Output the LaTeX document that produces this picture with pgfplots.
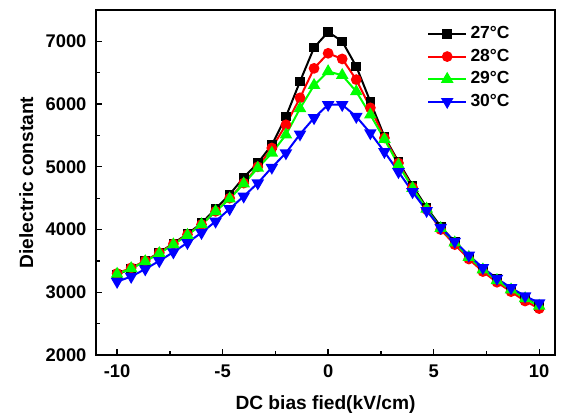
\documentclass[border=0pt]{standalone}
\usepackage{fontspec}
\setmainfont{Liberation Sans}
\usepackage{pgfplots}
\pgfplotsset{compat=1.18}

\begin{document}
\begin{tikzpicture}
% page frame: 563x420 px at 0.6pt per px, axis box from (96,10) to (555,355)
\useasboundingbox (-57.6pt,-39pt) rectangle (280.2pt,213pt);
\begin{axis}[
  at={(0,0)}, anchor=south west,
  scale only axis,
  width=275.4pt, height=207pt,
  xmin=-11, xmax=10.75,
  ymin=2000, ymax=7500,
  xtick={-10,-5,0,5,10},
  ytick={2000,3000,4000,5000,6000,7000},
  minor x tick num=1,
  minor y tick num=1,
  tick align=inside,
  xtick pos=bottom, ytick pos=left,
  major tick length=3.6pt, minor tick length=2.2pt,
  every tick/.style={black, line width=0.8pt},
  axis line style={line width=0.9pt},
  /pgf/number format/assume math mode=true,
  /pgf/number format/1000 sep={},
  tick label style={font=\fontsize{11}{13}\selectfont\bfseries},
  xticklabel style={yshift=-2.4pt},
  yticklabel style={xshift=-2.2pt},
  label style={font=\fontsize{11.5}{13}\selectfont\bfseries},
  xlabel={DC bias fied(kV/cm)},
  ylabel={Dielectric constant},
  xlabel style={yshift=-3.8pt},
  ylabel style={yshift=0.5pt},
  legend style={at={(0.92,0.972)}, anchor=north east, draw=none, fill=none,
    font=\fontsize{10.5}{12}\selectfont\bfseries, row sep=0.7pt},
  legend cell align=left,
  legend image code/.code={\draw[mark repeat=2,mark phase=2]
    plot coordinates {(0cm,0cm) (0.4cm,0cm) (0.8cm,0cm)};},
]
\addplot[black, line width=1.2pt, mark=square*, mark size=2.3pt] coordinates {
(-10,3280) (-9.333,3380) (-8.667,3500) (-8,3630) (-7.333,3780) (-6.667,3930)
(-6,4100) (-5.333,4330) (-4.667,4560) (-4,4830) (-3.333,5060) (-2.667,5350)
(-2,5800) (-1.333,6360) (-0.667,6900) (0,7150) (0.667,7000) (1.333,6600)
(2,6040) (2.667,5480) (3.333,5080) (4,4700) (4.667,4350) (5.333,4050)
(6,3800) (6.667,3570) (7.333,3380) (8,3210) (8.667,3060) (9.333,2910) (10,2780)
};
\addlegendentry{27°C}
\addplot[red, line width=1.2pt, mark=*, mark size=2.6pt] coordinates {
(-10,3300) (-9.333,3390) (-8.667,3500) (-8,3630) (-7.333,3770) (-6.667,3920)
(-6,4080) (-5.333,4290) (-4.667,4500) (-4,4740) (-3.333,5000) (-2.667,5300)
(-2,5670) (-1.333,6100) (-0.667,6570) (0,6810) (0.667,6720) (1.333,6390)
(2,5940) (2.667,5460) (3.333,5060) (4,4670) (4.667,4320) (5.333,4000)
(6,3760) (6.667,3530) (7.333,3330) (8,3160) (8.667,3010) (9.333,2860) (10,2740)
};
\addlegendentry{28°C}
\addplot[green, line width=1.2pt, mark=triangle*, mark size=3.2pt] coordinates {
(-10,3290) (-9.333,3380) (-8.667,3490) (-8,3620) (-7.333,3760) (-6.667,3910)
(-6,4080) (-5.333,4290) (-4.667,4490) (-4,4730) (-3.333,4980) (-2.667,5220)
(-2,5510) (-1.333,5930) (-0.667,6300) (0,6520) (0.667,6460) (1.333,6200)
(2,5830) (2.667,5440) (3.333,5030) (4,4660) (4.667,4330) (5.333,4020)
(6,3790) (6.667,3560) (7.333,3360) (8,3190) (8.667,3040) (9.333,2900) (10,2780)
};
\addlegendentry{29°C}
\addplot[blue, line width=1.2pt, mark=triangle*, mark size=3.2pt, mark options={rotate=180}] coordinates {
(-10,3170) (-9.333,3250) (-8.667,3370) (-8,3500) (-7.333,3640) (-6.667,3790)
(-6,3950) (-5.333,4130) (-4.667,4330) (-4,4530) (-3.333,4740) (-2.667,4990)
(-2,5220) (-1.333,5520) (-0.667,5780) (0,5990) (0.667,5990) (1.333,5800)
(2,5540) (2.667,5240) (3.333,4920) (4,4600) (4.667,4300) (5.333,4030)
(6,3810) (6.667,3590) (7.333,3390) (8,3220) (8.667,3070) (9.333,2940) (10,2830)
};
\addlegendentry{30°C}
\end{axis}
\end{tikzpicture}
\end{document}
